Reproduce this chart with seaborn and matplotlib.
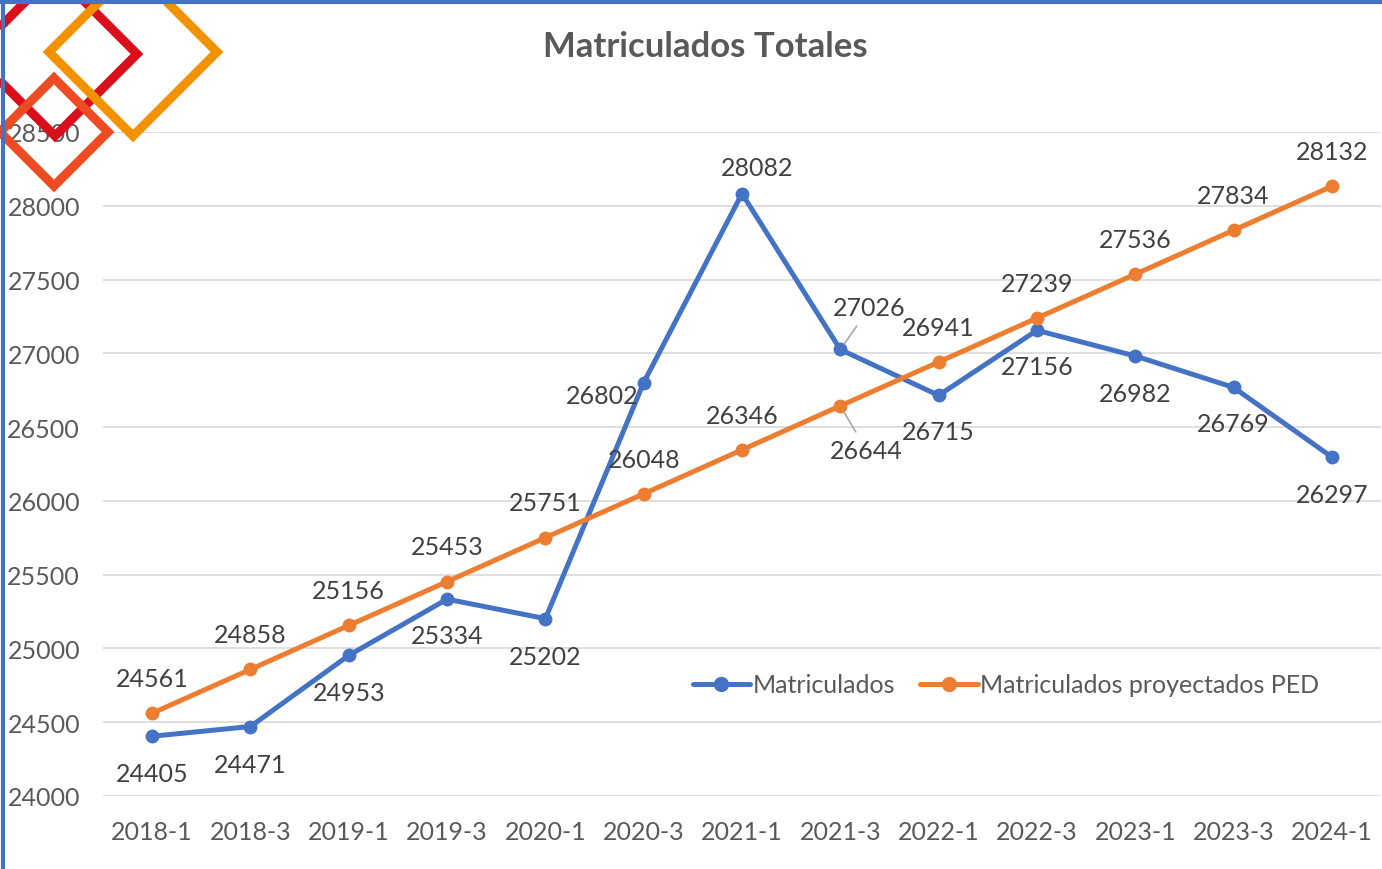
import matplotlib
matplotlib.use("Agg")
import matplotlib.pyplot as plt
from matplotlib.patches import Polygon
from matplotlib.lines import Line2D
import seaborn as sns
import pandas as pd

periodos = ["2018-1", "2018-3", "2019-1", "2019-3", "2020-1", "2020-3", "2021-1",
            "2021-3", "2022-1", "2022-3", "2023-1", "2023-3", "2024-1"]
matriculados = [24405, 24471, 24953, 25334, 25202, 26802, 28082,
                27026, 26715, 27156, 26982, 26769, 26297]
proyectados = [24561, 24858, 25156, 25453, 25751, 26048, 26346,
               26644, 26941, 27239, 27536, 27834, 28132]
serie_real = "Matriculados"
serie_ped = "Matriculados proyectados PED"

AZUL = "#4472C4"
NARANJA = "#ED7D31"
GRIS_TEXTO = "#595959"
FS = 18

sns.set_theme(style="white")
plt.rcParams["font.family"] = ["Lato", "DejaVu Sans"]

W, H = 1382, 870
fig = plt.figure(figsize=(W / 100, H / 100), dpi=100)
fig.patch.set_facecolor("white")


def fx(px):
    return px / W


def fy(py):
    return 1 - py / H


# decorative outlined diamonds in the corner (pixel centre, half-diagonal, colour)
rombos = [
    ((55, 55), 82, "#DA0F1B"),
    ((133, 53), 84, "#F39200"),
    ((54, 133), 54, "#EE4B22"),
]
for (cx, cy), r, col in rombos:
    pts = [(fx(cx), fy(cy - r)), (fx(cx + r), fy(cy)),
           (fx(cx), fy(cy + r)), (fx(cx - r), fy(cy))]
    fig.patches.append(Polygon(pts, closed=True, fill=False, edgecolor=col,
                               linewidth=6.5, joinstyle="miter",
                               transform=fig.transFigure, zorder=0))

# frame lines along the top and left edges
fig.lines.append(Line2D([0, 1], [fy(3), fy(3)], color=AZUL, linewidth=3,
                        transform=fig.transFigure, zorder=5))
fig.lines.append(Line2D([fx(3), fx(3)], [0, 1], color=AZUL, linewidth=3,
                        transform=fig.transFigure, zorder=5))

ax = fig.add_axes([fx(103), fy(797), fx(1381) - fx(103), fy(133) - fy(797)])
ax.patch.set_alpha(0)

df = pd.DataFrame({
    "periodo": periodos * 2,
    "valor": matriculados + proyectados,
    "serie": [serie_real] * len(periodos) + [serie_ped] * len(periodos),
})

sns.lineplot(data=df, x="periodo", y="valor", hue="serie", sort=False,
             palette={serie_real: AZUL, serie_ped: NARANJA},
             marker="o", markersize=10, markeredgewidth=0, linewidth=3.6,
             ax=ax, legend=False)

ax.set_xlim(-0.5, len(periodos) - 0.5)
ax.set_ylim(24000, 28500)
ax.set_yticks(range(24000, 28501, 500))
ax.set_xlabel("")
ax.set_ylabel("")
for s in ax.spines.values():
    s.set_visible(False)
ax.grid(axis="y", color="#D9D9D9", linewidth=1.2)
ax.set_axisbelow(True)
ax.tick_params(axis="both", length=0, labelsize=FS, labelcolor=GRIS_TEXTO)
ax.tick_params(axis="y", pad=16.5)
ax.tick_params(axis="x", pad=17)

# data labels: offsets in points (dx, dy)
off_real = [(0, -27), (0, -27), (0, -27), (0, -26), (0, -27), (-30, -9), (11, 19),
            (21, 30), (0, -26), (0, -26), (0, -27), (0, -26), (0, -27)]
off_ped = [(0, 25), (0, 25), (0, 25), (0, 25), (0, 25), (0, 25), (0, 25),
           (19, -32), (0, 25), (0, 25), (0, 25), (0, 25), (0, 25)]
flecha_real = {7}
flecha_ped = {7}

for i, (v, (dx, dy)) in enumerate(zip(matriculados, off_real)):
    props = dict(arrowstyle="-", color="#A6A6A6", lw=1.2, shrinkA=3, shrinkB=5) \
        if i in flecha_real else None
    ax.annotate(str(v), (i, v), xytext=(dx, dy), textcoords="offset points",
                ha="center", va="center", fontsize=FS, color="#404040",
                arrowprops=props, zorder=6)
for i, (v, (dx, dy)) in enumerate(zip(proyectados, off_ped)):
    props = dict(arrowstyle="-", color="#A6A6A6", lw=1.2, shrinkA=3, shrinkB=5) \
        if i in flecha_ped else None
    ax.annotate(str(v), (i, v), xytext=(dx, dy), textcoords="offset points",
                ha="center", va="center", fontsize=FS, color="#404040",
                arrowprops=props, zorder=6)

handles = [Line2D([], [], color=AZUL, linewidth=3.6, marker="o", markersize=10),
           Line2D([], [], color=NARANJA, linewidth=3.6, marker="o", markersize=10)]
ancho = fx(1381) - fx(103)
alto = fy(133) - fy(797)
ax.legend(handles, [serie_real, serie_ped], loc="center left",
          bbox_to_anchor=((fx(680) - fx(103)) / ancho, (fy(686) - fy(797)) / alto),
          ncol=2, frameon=False, fontsize=FS, labelcolor=GRIS_TEXTO,
          handlelength=2.3, handletextpad=0.1, columnspacing=1.0, borderpad=0)

fig.text(fx(705), fy(47), "Matriculados Totales", ha="center", va="center",
         fontsize=25, fontweight="bold", color=GRIS_TEXTO)

fig.savefig("out.png", dpi=100, facecolor="white")
